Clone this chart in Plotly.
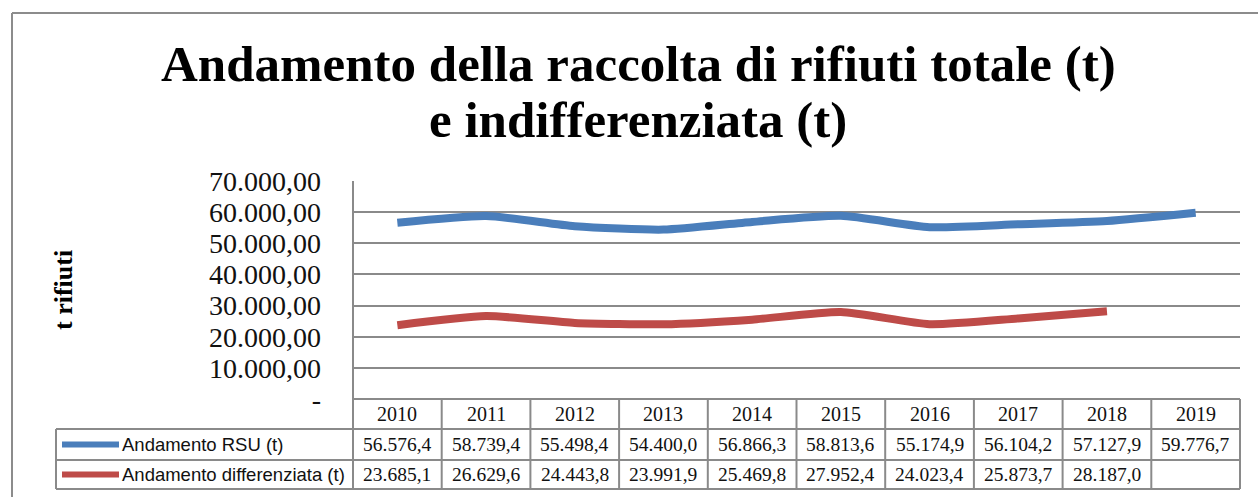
import plotly.graph_objects as go

# ---- data ----
years = ["2010", "2011", "2012", "2013", "2014", "2015", "2016", "2017", "2018", "2019"]
rsu = [56576.4, 58739.4, 55498.4, 54400.0, 56866.3, 58813.6, 55174.9, 56104.2, 57127.9, 59776.7]
differenziata = [23685.1, 26629.6, 24443.8, 23991.9, 25469.8, 27952.4, 24023.4, 25873.7, 28187.0, None]
series_names = ["Andamento RSU (t)", "Andamento differenziata (t)"]
series_colors = ["#4A7EBB", "#BE4B48"]
y_tickvals = [0, 10000, 20000, 30000, 40000, 50000, 60000, 70000]
y_ticktext = ["-", "10.000,00", "20.000,00", "30.000,00", "40.000,00",
              "50.000,00", "60.000,00", "70.000,00"]
title_lines = ["Andamento della raccolta di rifiuti totale (t)", "e indifferenziata (t)"]
y_title = "t rifiuti"

# ---- page geometry (pixels) ----
W, H = 1258, 497
PL, PR, PT, PB = 353, 1240, 181, 399      # plot area edges
GRID = "#8A8A8A"
SERIF = "Liberation Serif, Times New Roman, serif"
SANS = "Liberation Sans, Arial, sans-serif"


def px_x(px):
    return (px - PL) / (PR - PL)


def px_y(py):
    return (PB - py) / (PB - PT)


def it_num(v):
    s = f"{v:,.1f}"
    return s.replace(",", "#").replace(".", ",").replace("#", ".")


fig = go.Figure()
for vals, name, col in zip([rsu, differenziata], series_names, series_colors):
    fig.add_trace(go.Scatter(
        x=years, y=vals, name=name, mode="lines",
        line=dict(color=col, width=8, shape="spline", smoothing=0.6),
        connectgaps=False, showlegend=False, hoverinfo="skip"))

shapes = []
annotations = []

# outer chart border (top and left)
shapes.append(dict(type="line", xref="paper", yref="paper",
                   x0=px_x(12), x1=px_x(W + 5), y0=px_y(13), y1=px_y(13),
                   line=dict(color="#8C8C8C", width=2)))
shapes.append(dict(type="line", xref="paper", yref="paper",
                   x0=px_x(12), x1=px_x(12), y0=px_y(13), y1=px_y(H + 5),
                   line=dict(color="#8C8C8C", width=2)))

# data table below the plot
row_edges = [399, 429, 460, 489]
leg_left = 56
n = len(years)
# horizontal rules
shapes.append(dict(type="line", xref="paper", yref="paper",
                   x0=0, x1=1, y0=px_y(399), y1=px_y(399),
                   line=dict(color=GRID, width=2)))
for py in row_edges[1:]:
    shapes.append(dict(type="line", xref="paper", yref="paper",
                       x0=px_x(leg_left), x1=1, y0=px_y(py), y1=px_y(py),
                       line=dict(color=GRID, width=2)))
# vertical rules between year columns
for k in range(n + 1):
    shapes.append(dict(type="line", xref="paper", yref="paper",
                       x0=k / n, x1=k / n, y0=px_y(399 if k else PT), y1=px_y(row_edges[-1]),
                       line=dict(color=GRID, width=2)))
shapes.append(dict(type="line", xref="paper", yref="paper",
                   x0=px_x(leg_left), x1=px_x(leg_left), y0=px_y(429), y1=px_y(row_edges[-1]),
                   line=dict(color=GRID, width=2)))

# header row: years (category index positions on the x axis)
hdr_y = (row_edges[0] + row_edges[1]) / 2
for k, yr in enumerate(years):
    annotations.append(dict(x=k, xref="x", y=px_y(hdr_y), yref="paper",
                            text=yr, showarrow=False, xanchor="center", yanchor="middle",
                            font=dict(family=SERIF, size=20, color="#111")))

# value rows with legend keys
for r, (vals, name, col) in enumerate(zip([rsu, differenziata], series_names, series_colors)):
    cy = (row_edges[r + 1] + row_edges[r + 2]) / 2
    shapes.append(dict(type="line", xref="paper", yref="paper",
                       x0=px_x(62), x1=px_x(119), y0=px_y(cy), y1=px_y(cy),
                       line=dict(color=col, width=6)))
    annotations.append(dict(x=px_x(120), xref="paper", y=px_y(cy), yref="paper",
                            text=name, showarrow=False, xanchor="left", yanchor="middle",
                            font=dict(family=SANS, size=18.5, color="#111")))
    for k, v in enumerate(vals):
        if v is None:
            continue
        annotations.append(dict(x=k, xref="x", y=px_y(cy), yref="paper",
                                text=it_num(v), showarrow=False,
                                xanchor="center", yanchor="middle",
                                font=dict(family=SERIF, size=19.5, color="#111")))

# title (two lines)
for text, cy in zip(title_lines, [64, 120]):
    annotations.append(dict(x=px_x(638), xref="paper", y=px_y(cy), yref="paper",
                            text=f"<b>{text}</b>", showarrow=False,
                            xanchor="center", yanchor="middle",
                            font=dict(family=SERIF, size=51, color="#000")))

# y axis title
annotations.append(dict(x=px_x(63), xref="paper", y=px_y(290), yref="paper",
                        text=f"<b>{y_title}</b>", textangle=-90, showarrow=False,
                        xanchor="center", yanchor="middle",
                        font=dict(family=SERIF, size=26, color="#000")))

fig.update_layout(
    width=W, height=H,
    margin=dict(l=PL, r=W - PR, t=PT, b=H - PB, pad=0),
    paper_bgcolor="white", plot_bgcolor="white",
    shapes=shapes, annotations=annotations,
    showlegend=False,
    xaxis=dict(type="category", categoryorder="array", categoryarray=years,
               range=[-0.5, n - 0.5], showticklabels=False, showgrid=False,
               zeroline=False, showline=False, ticks=""),
    yaxis=dict(range=[0, 70000], tickvals=y_tickvals, ticktext=y_ticktext,
               showgrid=True, gridcolor=GRID, gridwidth=2, zeroline=False,
               showline=False, ticks="", ticklabelstandoff=31,
               tickfont=dict(family=SERIF, size=28, color="#111")),
)

fig.write_html("out.html")
